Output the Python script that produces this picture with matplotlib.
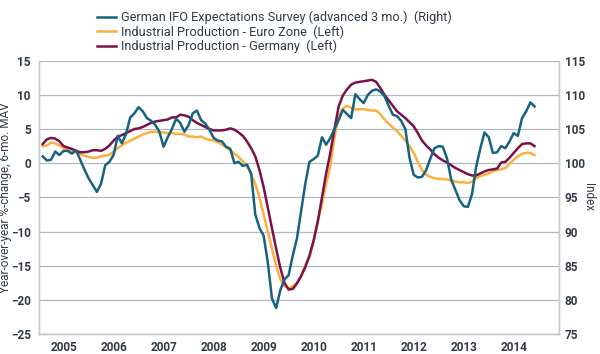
import numpy as np
import matplotlib
matplotlib.use("Agg")
import matplotlib.pyplot as plt

# ----------------------------
# Data (monthly, Jan 2005 - Nov 2014)
# ----------------------------
start_year = 2005.074

ifo_left = [
    1.0, 0.4, 0.5, 1.7, 1.2, 1.8, 1.8, 1.4, 1.9, 0.5, -0.9, -2.2,
    -3.2, -4.2, -3.0, -0.3, 0.2, 1.2, 4.0, 2.9, 4.3, 6.7, 7.3, 8.2,
    7.6, 6.6, 6.2, 5.6, 4.6, 2.4, 3.8, 5.0, 6.5, 5.9, 4.6, 5.6,
    7.3, 7.7, 6.3, 5.8, 4.9, 3.7, 3.3, 3.2, 2.4, 2.1, 0.0, 0.2,
    -0.4, -0.2, -1.5, -7.5, -9.5, -10.6, -14.5, -19.8, -21.2, -18.6, -17.0, -16.4,
    -13.5, -11.0, -7.0, -3.0, 0.2, 0.6, 1.1, 3.8, 2.7, 3.7, 5.0, 6.3,
    7.8, 7.2, 6.6, 10.1, 9.4, 8.8, 10.0, 10.6, 10.8, 10.5, 9.8, 8.4,
    7.1, 6.9, 6.2, 5.0, 0.8, -1.7, -2.1, -2.0, -1.0, 0.7, 2.2, 2.5,
    2.4, 0.7, -2.4, -3.9, -5.4, -6.3, -6.4, -4.5, -0.5, 2.2, 4.5, 3.8,
    1.5, 1.6, 2.5, 2.2, 3.2, 4.4, 4.0, 6.6, 7.6, 8.9, 8.3,
]
# IFO index (right axis)
ifo_index = [v + 100 for v in ifo_left]

ip_euro = [
    2.5, 2.6, 3.0, 2.9, 2.6, 2.2, 2.0, 1.8, 1.6, 1.3, 1.1, 0.9,
    0.8, 0.8, 1.0, 1.1, 1.2, 1.7, 2.2, 2.6, 3.0, 3.3, 3.6, 3.9,
    4.2, 4.4, 4.6, 4.6, 4.5, 4.5, 4.4, 4.4, 4.3, 4.3, 4.2, 3.9,
    3.9, 3.8, 3.9, 3.6, 3.4, 3.3, 3.1, 2.7, 2.3, 1.9, 1.4, 0.9,
    0.3, -0.4, -1.6, -3.0, -5.0, -7.5, -10.0, -12.5, -15.0, -17.0, -18.0, -18.3,
    -18.0, -17.5, -16.5, -15.0, -13.8, -11.5, -8.5, -6.0, -3.0, -0.5, 3.8, 6.9,
    8.0, 8.4, 8.1, 7.9, 7.9, 7.9, 7.8, 7.7, 7.7, 7.2, 6.4, 5.8,
    5.2, 4.7, 4.0, 3.3, 2.5, 1.5, 0.2, -1.0, -1.7, -2.0, -2.2, -2.3,
    -2.3, -2.4, -2.5, -2.7, -2.8, -2.8, -2.9, -2.7, -2.2, -1.9, -1.7, -1.5,
    -1.2, -1.0, -0.9, -0.7, -0.1, 0.5, 1.0, 1.4, 1.5, 1.5, 1.2,
]

ip_germany = [
    2.8, 3.5, 3.7, 3.6, 3.2, 2.5, 2.3, 2.1, 1.8, 1.6, 1.6, 1.7,
    1.9, 1.9, 1.8, 2.1, 2.6, 3.3, 3.9, 4.1, 4.4, 4.7, 5.0, 5.1,
    5.3, 5.6, 5.9, 6.1, 6.2, 6.3, 6.4, 6.7, 6.7, 7.1, 7.0, 6.8,
    6.3, 5.9, 5.6, 5.3, 5.0, 4.8, 4.8, 4.8, 4.9, 5.1, 4.9, 4.5,
    4.0, 3.2, 2.2, 1.0, -1.0, -3.5, -6.5, -9.5, -12.5, -15.3, -17.5, -18.5,
    -18.4, -17.6, -16.5, -15.2, -13.5, -11.3, -8.5, -5.0, -1.5, 1.5, 5.0, 8.3,
    9.9, 10.8, 11.5, 11.8, 11.9, 12.0, 12.1, 12.2, 11.9, 11.0, 10.0, 9.2,
    8.4, 7.6, 7.1, 6.6, 6.0, 5.4, 4.4, 3.3, 2.6, 2.0, 1.3, 0.8,
    0.4, 0.1, -0.3, -0.7, -1.0, -1.3, -1.6, -1.8, -1.8, -1.5, -1.2, -1.0,
    -0.9, -0.8, 0.1, 0.2, 0.8, 1.5, 2.2, 2.8, 2.9, 2.9, 2.5,
]

years = list(range(2005, 2015))
x = start_year + np.arange(len(ifo_index)) / 12.0

# ----------------------------
# Style
# ----------------------------
plt.rcParams["font.family"] = ["Roboto", "DejaVu Sans"]
TXT = "#2f3b45"
GRID = "#b3b9c0"
C_IFO = "#17637f"
C_EU = "#fbb040"
C_DE = "#7c1148"

fig = plt.figure(figsize=(6.0, 3.54), dpi=100)
ax = fig.add_axes([0.065, 0.0565, 0.867, 0.772])
ax2 = ax.twinx()

l_de, = ax.plot(x, ip_germany, color=C_DE, lw=1.8, zorder=3)
l_eu, = ax.plot(x, ip_euro, color=C_EU, lw=1.8, zorder=2)
l_ifo, = ax2.plot(x, ifo_index, color=C_IFO, lw=1.8, zorder=4)

ax.set_xlim(2005.0, 2015.4)
ax.set_ylim(-25, 15)
ax2.set_ylim(75, 115)
ax.set_yticks(np.arange(-25, 16, 5))
ax2.set_yticks(np.arange(75, 116, 5))
ax.set_xticks([y + 0.5 for y in years])
ax.set_xticklabels([str(y) for y in years])

ax.grid(axis="y", color=GRID, lw=0.9)
ax.set_axisbelow(True)

for a in (ax, ax2):
    a.spines["top"].set_visible(False)
    for s in ("left", "right", "bottom"):
        a.spines[s].set_color("#c3c9cf")
        a.spines[s].set_linewidth(1.0)
    a.tick_params(length=0, colors=TXT, labelsize=8.5)
ax.tick_params(axis="x", pad=5)
ax.tick_params(axis="y", pad=6)
ax2.tick_params(axis="y", pad=4)
for lab in ax.get_xticklabels() + ax.get_yticklabels() + ax2.get_yticklabels():
    lab.set_fontweight("bold")

ax.set_ylabel("Year-over-year %-change, 6-mo. MAV", color=TXT, fontsize=8.5)
ax.yaxis.set_label_coords(-0.052, 0.5)
ax2.set_ylabel("Index", color=TXT, fontsize=8.5, rotation=270, va="center")
ax2.yaxis.set_label_coords(1.056, 0.5)

fig.legend(
    [l_ifo, l_eu, l_de],
    ["German IFO Expectations Survey (advanced 3 mo.)  (Right)",
     "Industrial Production - Euro Zone  (Left)",
     "Industrial Production - Germany  (Left)"],
    loc="upper left", bbox_to_anchor=(0.143, 1.0), frameon=False,
    fontsize=9.2, handlelength=1.55, handletextpad=0.35, labelspacing=0.08,
    labelcolor=TXT, borderaxespad=0.45,
)

plt.savefig("out.png", dpi=100)
